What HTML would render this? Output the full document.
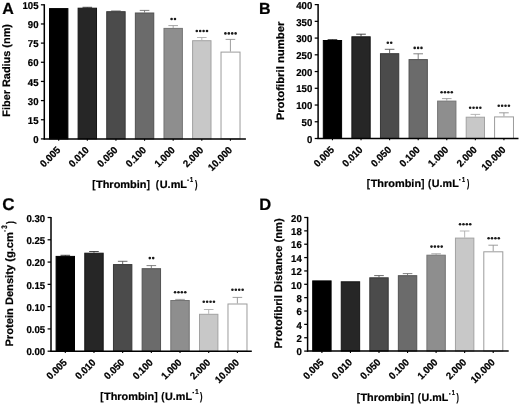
<!DOCTYPE html>
<html><head><meta charset="utf-8"><style>
html,body{margin:0;padding:0;background:#fff;}
svg{display:block;font-family:"Liberation Sans", sans-serif;text-rendering:geometricPrecision;}
text{stroke:#000;stroke-width:0.22px;}
svg{filter:grayscale(1) blur(0.35px);}
</style></head><body>
<svg width="520" height="405" viewBox="0 0 520 405">
<rect width="520" height="405" fill="#fff"/>
<text x="2.3" y="13.8" font-size="16" font-weight="bold">A</text>
<rect x="49.50" y="8.60" width="18.40" height="130.30" fill="#000000" stroke="#000000" stroke-width="1"/>
<line x1="58.70" y1="138.90" x2="58.70" y2="140.70" stroke="#000" stroke-width="1.1"/>
<text transform="translate(61.00,150.80) rotate(-45) scale(0.96,1)" font-size="10.0" font-weight="bold" text-anchor="end">0.005</text>
<line x1="87.32" y1="7.30" x2="87.32" y2="7.70" stroke="#2a2a2a" stroke-width="0.85"/>
<line x1="82.52" y1="7.30" x2="92.12" y2="7.30" stroke="#2a2a2a" stroke-width="0.85"/>
<rect x="78.12" y="8.20" width="18.40" height="130.70" fill="#262626" stroke="#151515" stroke-width="1"/>
<line x1="87.32" y1="138.90" x2="87.32" y2="140.70" stroke="#000" stroke-width="1.1"/>
<text transform="translate(89.62,150.80) rotate(-45) scale(0.96,1)" font-size="10.0" font-weight="bold" text-anchor="end">0.010</text>
<line x1="115.94" y1="11.00" x2="115.94" y2="11.20" stroke="#505050" stroke-width="0.85"/>
<line x1="111.14" y1="11.00" x2="120.74" y2="11.00" stroke="#505050" stroke-width="0.85"/>
<rect x="106.74" y="11.70" width="18.40" height="127.20" fill="#4b4b4b" stroke="#383838" stroke-width="1"/>
<line x1="115.94" y1="138.90" x2="115.94" y2="140.70" stroke="#000" stroke-width="1.1"/>
<text transform="translate(118.24,150.80) rotate(-45) scale(0.96,1)" font-size="10.0" font-weight="bold" text-anchor="end">0.050</text>
<line x1="144.56" y1="10.40" x2="144.56" y2="12.50" stroke="#6a6a6a" stroke-width="0.85"/>
<line x1="139.76" y1="10.40" x2="149.36" y2="10.40" stroke="#6a6a6a" stroke-width="0.85"/>
<rect x="135.36" y="13.00" width="18.40" height="125.90" fill="#6b6b6b" stroke="#525252" stroke-width="1"/>
<line x1="144.56" y1="138.90" x2="144.56" y2="140.70" stroke="#000" stroke-width="1.1"/>
<text transform="translate(146.86,150.80) rotate(-45) scale(0.96,1)" font-size="10.0" font-weight="bold" text-anchor="end">0.100</text>
<line x1="173.18" y1="25.60" x2="173.18" y2="27.90" stroke="#959595" stroke-width="0.85"/>
<line x1="168.38" y1="25.60" x2="177.98" y2="25.60" stroke="#959595" stroke-width="0.85"/>
<rect x="163.98" y="28.40" width="18.40" height="110.50" fill="#8e8e8e" stroke="#747474" stroke-width="1"/>
<circle cx="171.58" cy="19.00" r="1.3" fill="#1a1a1a"/>
<circle cx="174.98" cy="19.00" r="1.3" fill="#1a1a1a"/>
<line x1="173.18" y1="138.90" x2="173.18" y2="140.70" stroke="#000" stroke-width="1.1"/>
<text transform="translate(175.48,150.80) rotate(-45) scale(0.96,1)" font-size="10.0" font-weight="bold" text-anchor="end">1.000</text>
<line x1="201.80" y1="37.50" x2="201.80" y2="40.20" stroke="#aaaaaa" stroke-width="0.85"/>
<line x1="197.00" y1="37.50" x2="206.60" y2="37.50" stroke="#aaaaaa" stroke-width="0.85"/>
<rect x="192.60" y="40.70" width="18.40" height="98.20" fill="#c8c8c8" stroke="#a2a2a2" stroke-width="1"/>
<circle cx="196.80" cy="31.00" r="1.3" fill="#1a1a1a"/>
<circle cx="200.20" cy="31.00" r="1.3" fill="#1a1a1a"/>
<circle cx="203.60" cy="31.00" r="1.3" fill="#1a1a1a"/>
<circle cx="207.00" cy="31.00" r="1.3" fill="#1a1a1a"/>
<line x1="201.80" y1="138.90" x2="201.80" y2="140.70" stroke="#000" stroke-width="1.1"/>
<text transform="translate(204.10,150.80) rotate(-45) scale(0.96,1)" font-size="10.0" font-weight="bold" text-anchor="end">2.000</text>
<line x1="230.42" y1="39.40" x2="230.42" y2="51.60" stroke="#8c8c8c" stroke-width="0.85"/>
<line x1="225.62" y1="39.40" x2="235.22" y2="39.40" stroke="#8c8c8c" stroke-width="0.85"/>
<rect x="221.02" y="52.10" width="19.00" height="86.80" fill="#ffffff" stroke="#9c9c9c" stroke-width="1"/>
<circle cx="225.42" cy="33.40" r="1.3" fill="#1a1a1a"/>
<circle cx="228.82" cy="33.40" r="1.3" fill="#1a1a1a"/>
<circle cx="232.22" cy="33.40" r="1.3" fill="#1a1a1a"/>
<circle cx="235.62" cy="33.40" r="1.3" fill="#1a1a1a"/>
<line x1="230.42" y1="138.90" x2="230.42" y2="140.70" stroke="#000" stroke-width="1.1"/>
<text transform="translate(232.72,150.80) rotate(-45) scale(0.96,1)" font-size="10.0" font-weight="bold" text-anchor="end">10.000</text>
<line x1="44.30" y1="4.20" x2="44.30" y2="139.50" stroke="#000" stroke-width="1.5"/>
<line x1="43.70" y1="138.90" x2="245.90" y2="138.90" stroke="#000" stroke-width="1.5"/>
<line x1="40.90" y1="138.90" x2="44.30" y2="138.90" stroke="#000" stroke-width="1.25"/>
<text transform="translate(38.50,143.10) scale(0.96,1)" font-size="10.0" font-weight="bold" text-anchor="end">0</text>
<line x1="40.90" y1="119.74" x2="44.30" y2="119.74" stroke="#000" stroke-width="1.25"/>
<text transform="translate(38.50,123.94) scale(0.96,1)" font-size="10.0" font-weight="bold" text-anchor="end">15</text>
<line x1="40.90" y1="100.59" x2="44.30" y2="100.59" stroke="#000" stroke-width="1.25"/>
<text transform="translate(38.50,104.79) scale(0.96,1)" font-size="10.0" font-weight="bold" text-anchor="end">30</text>
<line x1="40.90" y1="81.43" x2="44.30" y2="81.43" stroke="#000" stroke-width="1.25"/>
<text transform="translate(38.50,85.63) scale(0.96,1)" font-size="10.0" font-weight="bold" text-anchor="end">45</text>
<line x1="40.90" y1="62.27" x2="44.30" y2="62.27" stroke="#000" stroke-width="1.25"/>
<text transform="translate(38.50,66.47) scale(0.96,1)" font-size="10.0" font-weight="bold" text-anchor="end">60</text>
<line x1="40.90" y1="43.11" x2="44.30" y2="43.11" stroke="#000" stroke-width="1.25"/>
<text transform="translate(38.50,47.31) scale(0.96,1)" font-size="10.0" font-weight="bold" text-anchor="end">75</text>
<line x1="40.90" y1="23.96" x2="44.30" y2="23.96" stroke="#000" stroke-width="1.25"/>
<text transform="translate(38.50,28.16) scale(0.96,1)" font-size="10.0" font-weight="bold" text-anchor="end">90</text>
<line x1="40.90" y1="4.80" x2="44.30" y2="4.80" stroke="#000" stroke-width="1.25"/>
<text transform="translate(38.50,9.00) scale(0.96,1)" font-size="10.0" font-weight="bold" text-anchor="end">105</text>
<text transform="translate(10.20,116.00) rotate(-90)" x="-0.73" font-size="10.8" font-weight="bold" textLength="92.67" lengthAdjust="spacingAndGlyphs">Fiber Radius (nm)</text>
<text x="92.15" y="187.50" font-size="11.0" font-weight="bold" textLength="3.27" lengthAdjust="spacingAndGlyphs">[</text>
<text x="95.98" y="187.50" font-size="10.6" font-weight="bold" textLength="50.59" lengthAdjust="spacingAndGlyphs">Thrombin</text>
<text x="146.79" y="187.50" font-size="11.0" font-weight="bold" textLength="3.14" lengthAdjust="spacingAndGlyphs">]</text>
<text x="155.72" y="187.50" font-size="11.0" font-weight="bold" textLength="3.19" lengthAdjust="spacingAndGlyphs">(</text>
<text x="159.74" y="187.50" font-size="10.6" font-weight="bold" textLength="27.29" lengthAdjust="spacingAndGlyphs">U.mL</text>
<text x="194.89" y="187.50" font-size="11.0" font-weight="bold" textLength="2.48" lengthAdjust="spacingAndGlyphs">)</text>
<rect x="187.30" y="179.55" width="1.50" height="1.3" fill="#000"/>
<text x="190.05" y="182.40" font-size="7.2" font-weight="bold" textLength="3.11" lengthAdjust="spacingAndGlyphs">1</text>
<text x="259.0" y="13.8" font-size="16" font-weight="bold">B</text>
<line x1="332.45" y1="39.60" x2="332.45" y2="40.00" stroke="#202020" stroke-width="0.85"/>
<line x1="327.65" y1="39.60" x2="337.25" y2="39.60" stroke="#202020" stroke-width="0.85"/>
<rect x="323.30" y="40.50" width="18.30" height="98.00" fill="#000000" stroke="#000000" stroke-width="1"/>
<line x1="332.45" y1="138.50" x2="332.45" y2="140.30" stroke="#000" stroke-width="1.1"/>
<text transform="translate(334.75,150.40) rotate(-45) scale(0.96,1)" font-size="10.0" font-weight="bold" text-anchor="end">0.005</text>
<line x1="361.03" y1="34.20" x2="361.03" y2="36.30" stroke="#2a2a2a" stroke-width="0.85"/>
<line x1="356.23" y1="34.20" x2="365.83" y2="34.20" stroke="#2a2a2a" stroke-width="0.85"/>
<rect x="351.88" y="36.80" width="18.30" height="101.70" fill="#262626" stroke="#151515" stroke-width="1"/>
<line x1="361.03" y1="138.50" x2="361.03" y2="140.30" stroke="#000" stroke-width="1.1"/>
<text transform="translate(363.33,150.40) rotate(-45) scale(0.96,1)" font-size="10.0" font-weight="bold" text-anchor="end">0.010</text>
<line x1="389.61" y1="49.30" x2="389.61" y2="53.20" stroke="#505050" stroke-width="0.85"/>
<line x1="384.81" y1="49.30" x2="394.41" y2="49.30" stroke="#505050" stroke-width="0.85"/>
<rect x="380.46" y="53.70" width="18.30" height="84.80" fill="#4b4b4b" stroke="#383838" stroke-width="1"/>
<circle cx="387.81" cy="42.70" r="1.3" fill="#1a1a1a"/>
<circle cx="391.21" cy="42.70" r="1.3" fill="#1a1a1a"/>
<line x1="389.61" y1="138.50" x2="389.61" y2="140.30" stroke="#000" stroke-width="1.1"/>
<text transform="translate(391.91,150.40) rotate(-45) scale(0.96,1)" font-size="10.0" font-weight="bold" text-anchor="end">0.050</text>
<line x1="418.19" y1="53.80" x2="418.19" y2="59.10" stroke="#6a6a6a" stroke-width="0.85"/>
<line x1="413.39" y1="53.80" x2="422.99" y2="53.80" stroke="#6a6a6a" stroke-width="0.85"/>
<rect x="409.04" y="59.60" width="18.30" height="78.90" fill="#6b6b6b" stroke="#525252" stroke-width="1"/>
<circle cx="414.69" cy="47.90" r="1.3" fill="#1a1a1a"/>
<circle cx="418.09" cy="47.90" r="1.3" fill="#1a1a1a"/>
<circle cx="421.49" cy="47.90" r="1.3" fill="#1a1a1a"/>
<line x1="418.19" y1="138.50" x2="418.19" y2="140.30" stroke="#000" stroke-width="1.1"/>
<text transform="translate(420.49,150.40) rotate(-45) scale(0.96,1)" font-size="10.0" font-weight="bold" text-anchor="end">0.100</text>
<line x1="446.77" y1="98.60" x2="446.77" y2="100.60" stroke="#959595" stroke-width="0.85"/>
<line x1="441.97" y1="98.60" x2="451.57" y2="98.60" stroke="#959595" stroke-width="0.85"/>
<rect x="437.62" y="101.10" width="18.30" height="37.40" fill="#8e8e8e" stroke="#747474" stroke-width="1"/>
<circle cx="441.57" cy="92.20" r="1.3" fill="#1a1a1a"/>
<circle cx="444.97" cy="92.20" r="1.3" fill="#1a1a1a"/>
<circle cx="448.37" cy="92.20" r="1.3" fill="#1a1a1a"/>
<circle cx="451.77" cy="92.20" r="1.3" fill="#1a1a1a"/>
<line x1="446.77" y1="138.50" x2="446.77" y2="140.30" stroke="#000" stroke-width="1.1"/>
<text transform="translate(449.07,150.40) rotate(-45) scale(0.96,1)" font-size="10.0" font-weight="bold" text-anchor="end">1.000</text>
<line x1="475.35" y1="114.40" x2="475.35" y2="116.70" stroke="#aaaaaa" stroke-width="0.85"/>
<line x1="470.55" y1="114.40" x2="480.15" y2="114.40" stroke="#aaaaaa" stroke-width="0.85"/>
<rect x="466.20" y="117.20" width="18.30" height="21.30" fill="#c8c8c8" stroke="#a2a2a2" stroke-width="1"/>
<circle cx="470.15" cy="107.80" r="1.3" fill="#1a1a1a"/>
<circle cx="473.55" cy="107.80" r="1.3" fill="#1a1a1a"/>
<circle cx="476.95" cy="107.80" r="1.3" fill="#1a1a1a"/>
<circle cx="480.35" cy="107.80" r="1.3" fill="#1a1a1a"/>
<line x1="475.35" y1="138.50" x2="475.35" y2="140.30" stroke="#000" stroke-width="1.1"/>
<text transform="translate(477.65,150.40) rotate(-45) scale(0.96,1)" font-size="10.0" font-weight="bold" text-anchor="end">2.000</text>
<line x1="503.93" y1="112.80" x2="503.93" y2="116.40" stroke="#8c8c8c" stroke-width="0.85"/>
<line x1="499.13" y1="112.80" x2="508.73" y2="112.80" stroke="#8c8c8c" stroke-width="0.85"/>
<rect x="494.58" y="116.90" width="18.90" height="21.60" fill="#ffffff" stroke="#9c9c9c" stroke-width="1"/>
<circle cx="498.73" cy="105.80" r="1.3" fill="#1a1a1a"/>
<circle cx="502.13" cy="105.80" r="1.3" fill="#1a1a1a"/>
<circle cx="505.53" cy="105.80" r="1.3" fill="#1a1a1a"/>
<circle cx="508.93" cy="105.80" r="1.3" fill="#1a1a1a"/>
<line x1="503.93" y1="138.50" x2="503.93" y2="140.30" stroke="#000" stroke-width="1.1"/>
<text transform="translate(506.23,150.40) rotate(-45) scale(0.96,1)" font-size="10.0" font-weight="bold" text-anchor="end">10.000</text>
<line x1="318.10" y1="4.00" x2="318.10" y2="139.10" stroke="#000" stroke-width="1.5"/>
<line x1="317.50" y1="138.50" x2="518.50" y2="138.50" stroke="#000" stroke-width="1.5"/>
<line x1="314.70" y1="138.50" x2="318.10" y2="138.50" stroke="#000" stroke-width="1.25"/>
<text transform="translate(312.30,142.70) scale(0.96,1)" font-size="10.0" font-weight="bold" text-anchor="end">0</text>
<line x1="314.70" y1="121.76" x2="318.10" y2="121.76" stroke="#000" stroke-width="1.25"/>
<text transform="translate(312.30,125.96) scale(0.96,1)" font-size="10.0" font-weight="bold" text-anchor="end">50</text>
<line x1="314.70" y1="105.03" x2="318.10" y2="105.03" stroke="#000" stroke-width="1.25"/>
<text transform="translate(312.30,109.23) scale(0.96,1)" font-size="10.0" font-weight="bold" text-anchor="end">100</text>
<line x1="314.70" y1="88.29" x2="318.10" y2="88.29" stroke="#000" stroke-width="1.25"/>
<text transform="translate(312.30,92.49) scale(0.96,1)" font-size="10.0" font-weight="bold" text-anchor="end">150</text>
<line x1="314.70" y1="71.55" x2="318.10" y2="71.55" stroke="#000" stroke-width="1.25"/>
<text transform="translate(312.30,75.75) scale(0.96,1)" font-size="10.0" font-weight="bold" text-anchor="end">200</text>
<line x1="314.70" y1="54.81" x2="318.10" y2="54.81" stroke="#000" stroke-width="1.25"/>
<text transform="translate(312.30,59.01) scale(0.96,1)" font-size="10.0" font-weight="bold" text-anchor="end">250</text>
<line x1="314.70" y1="38.08" x2="318.10" y2="38.08" stroke="#000" stroke-width="1.25"/>
<text transform="translate(312.30,42.28) scale(0.96,1)" font-size="10.0" font-weight="bold" text-anchor="end">300</text>
<line x1="314.70" y1="21.34" x2="318.10" y2="21.34" stroke="#000" stroke-width="1.25"/>
<text transform="translate(312.30,25.54) scale(0.96,1)" font-size="10.0" font-weight="bold" text-anchor="end">350</text>
<line x1="314.70" y1="4.60" x2="318.10" y2="4.60" stroke="#000" stroke-width="1.25"/>
<text transform="translate(312.30,8.80) scale(0.96,1)" font-size="10.0" font-weight="bold" text-anchor="end">400</text>
<text transform="translate(283.80,119.60) rotate(-90)" x="-0.76" font-size="10.8" font-weight="bold" textLength="98.83" lengthAdjust="spacingAndGlyphs">Protofibril number</text>
<text x="366.85" y="187.40" font-size="11.0" font-weight="bold" textLength="3.27" lengthAdjust="spacingAndGlyphs">[</text>
<text x="370.68" y="187.40" font-size="10.6" font-weight="bold" textLength="50.39" lengthAdjust="spacingAndGlyphs">Thrombin</text>
<text x="421.29" y="187.40" font-size="11.0" font-weight="bold" textLength="3.14" lengthAdjust="spacingAndGlyphs">]</text>
<text x="428.12" y="187.40" font-size="11.0" font-weight="bold" textLength="3.19" lengthAdjust="spacingAndGlyphs">(</text>
<text x="431.85" y="187.40" font-size="10.6" font-weight="bold" textLength="26.88" lengthAdjust="spacingAndGlyphs">U.mL</text>
<text x="466.89" y="187.40" font-size="11.0" font-weight="bold" textLength="2.36" lengthAdjust="spacingAndGlyphs">)</text>
<rect x="459.00" y="179.05" width="1.50" height="1.3" fill="#000"/>
<text x="462.05" y="181.60" font-size="7.2" font-weight="bold" textLength="3.11" lengthAdjust="spacingAndGlyphs">1</text>
<text x="2.2" y="210.2" font-size="17" font-weight="bold">C</text>
<line x1="65.30" y1="255.30" x2="65.30" y2="255.90" stroke="#202020" stroke-width="0.85"/>
<line x1="60.50" y1="255.30" x2="70.10" y2="255.30" stroke="#202020" stroke-width="0.85"/>
<rect x="56.10" y="256.40" width="18.40" height="94.80" fill="#000000" stroke="#000000" stroke-width="1"/>
<line x1="65.30" y1="351.20" x2="65.30" y2="353.00" stroke="#000" stroke-width="1.1"/>
<text transform="translate(67.60,363.10) rotate(-45) scale(0.96,1)" font-size="10.0" font-weight="bold" text-anchor="end">0.005</text>
<line x1="93.98" y1="251.50" x2="93.98" y2="252.70" stroke="#2a2a2a" stroke-width="0.85"/>
<line x1="89.18" y1="251.50" x2="98.78" y2="251.50" stroke="#2a2a2a" stroke-width="0.85"/>
<rect x="84.78" y="253.20" width="18.40" height="98.00" fill="#262626" stroke="#151515" stroke-width="1"/>
<line x1="93.98" y1="351.20" x2="93.98" y2="353.00" stroke="#000" stroke-width="1.1"/>
<text transform="translate(96.28,363.10) rotate(-45) scale(0.96,1)" font-size="10.0" font-weight="bold" text-anchor="end">0.010</text>
<line x1="122.66" y1="261.30" x2="122.66" y2="264.10" stroke="#505050" stroke-width="0.85"/>
<line x1="117.86" y1="261.30" x2="127.46" y2="261.30" stroke="#505050" stroke-width="0.85"/>
<rect x="113.46" y="264.60" width="18.40" height="86.60" fill="#4b4b4b" stroke="#383838" stroke-width="1"/>
<line x1="122.66" y1="351.20" x2="122.66" y2="353.00" stroke="#000" stroke-width="1.1"/>
<text transform="translate(124.96,363.10) rotate(-45) scale(0.96,1)" font-size="10.0" font-weight="bold" text-anchor="end">0.050</text>
<line x1="151.34" y1="265.60" x2="151.34" y2="268.20" stroke="#6a6a6a" stroke-width="0.85"/>
<line x1="146.54" y1="265.60" x2="156.14" y2="265.60" stroke="#6a6a6a" stroke-width="0.85"/>
<rect x="142.14" y="268.70" width="18.40" height="82.50" fill="#6b6b6b" stroke="#525252" stroke-width="1"/>
<circle cx="149.79" cy="258.10" r="1.3" fill="#1a1a1a"/>
<circle cx="153.19" cy="258.10" r="1.3" fill="#1a1a1a"/>
<line x1="151.34" y1="351.20" x2="151.34" y2="353.00" stroke="#000" stroke-width="1.1"/>
<text transform="translate(153.64,363.10) rotate(-45) scale(0.96,1)" font-size="10.0" font-weight="bold" text-anchor="end">0.100</text>
<line x1="180.02" y1="299.40" x2="180.02" y2="300.00" stroke="#959595" stroke-width="0.85"/>
<line x1="175.22" y1="299.40" x2="184.82" y2="299.40" stroke="#959595" stroke-width="0.85"/>
<rect x="170.82" y="300.50" width="18.40" height="50.70" fill="#8e8e8e" stroke="#747474" stroke-width="1"/>
<circle cx="175.07" cy="292.20" r="1.3" fill="#1a1a1a"/>
<circle cx="178.47" cy="292.20" r="1.3" fill="#1a1a1a"/>
<circle cx="181.87" cy="292.20" r="1.3" fill="#1a1a1a"/>
<circle cx="185.27" cy="292.20" r="1.3" fill="#1a1a1a"/>
<line x1="180.02" y1="351.20" x2="180.02" y2="353.00" stroke="#000" stroke-width="1.1"/>
<text transform="translate(182.32,363.10) rotate(-45) scale(0.96,1)" font-size="10.0" font-weight="bold" text-anchor="end">1.000</text>
<line x1="208.70" y1="309.50" x2="208.70" y2="313.80" stroke="#aaaaaa" stroke-width="0.85"/>
<line x1="203.90" y1="309.50" x2="213.50" y2="309.50" stroke="#aaaaaa" stroke-width="0.85"/>
<rect x="199.50" y="314.30" width="18.40" height="36.90" fill="#c8c8c8" stroke="#a2a2a2" stroke-width="1"/>
<circle cx="203.75" cy="301.70" r="1.3" fill="#1a1a1a"/>
<circle cx="207.15" cy="301.70" r="1.3" fill="#1a1a1a"/>
<circle cx="210.55" cy="301.70" r="1.3" fill="#1a1a1a"/>
<circle cx="213.95" cy="301.70" r="1.3" fill="#1a1a1a"/>
<line x1="208.70" y1="351.20" x2="208.70" y2="353.00" stroke="#000" stroke-width="1.1"/>
<text transform="translate(211.00,363.10) rotate(-45) scale(0.96,1)" font-size="10.0" font-weight="bold" text-anchor="end">2.000</text>
<line x1="237.38" y1="297.40" x2="237.38" y2="303.50" stroke="#8c8c8c" stroke-width="0.85"/>
<line x1="232.58" y1="297.40" x2="242.18" y2="297.40" stroke="#8c8c8c" stroke-width="0.85"/>
<rect x="227.98" y="304.00" width="19.00" height="47.20" fill="#ffffff" stroke="#9c9c9c" stroke-width="1"/>
<circle cx="232.43" cy="289.70" r="1.3" fill="#1a1a1a"/>
<circle cx="235.83" cy="289.70" r="1.3" fill="#1a1a1a"/>
<circle cx="239.23" cy="289.70" r="1.3" fill="#1a1a1a"/>
<circle cx="242.63" cy="289.70" r="1.3" fill="#1a1a1a"/>
<line x1="237.38" y1="351.20" x2="237.38" y2="353.00" stroke="#000" stroke-width="1.1"/>
<text transform="translate(239.68,363.10) rotate(-45) scale(0.96,1)" font-size="10.0" font-weight="bold" text-anchor="end">10.000</text>
<line x1="51.00" y1="216.90" x2="51.00" y2="351.80" stroke="#000" stroke-width="1.5"/>
<line x1="50.40" y1="351.20" x2="251.80" y2="351.20" stroke="#000" stroke-width="1.5"/>
<line x1="47.60" y1="351.20" x2="51.00" y2="351.20" stroke="#000" stroke-width="1.25"/>
<text transform="translate(45.20,355.40) scale(0.96,1)" font-size="10.0" font-weight="bold" text-anchor="end">0.00</text>
<line x1="47.60" y1="328.92" x2="51.00" y2="328.92" stroke="#000" stroke-width="1.25"/>
<text transform="translate(45.20,333.12) scale(0.96,1)" font-size="10.0" font-weight="bold" text-anchor="end">0.05</text>
<line x1="47.60" y1="306.63" x2="51.00" y2="306.63" stroke="#000" stroke-width="1.25"/>
<text transform="translate(45.20,310.83) scale(0.96,1)" font-size="10.0" font-weight="bold" text-anchor="end">0.10</text>
<line x1="47.60" y1="284.35" x2="51.00" y2="284.35" stroke="#000" stroke-width="1.25"/>
<text transform="translate(45.20,288.55) scale(0.96,1)" font-size="10.0" font-weight="bold" text-anchor="end">0.15</text>
<line x1="47.60" y1="262.07" x2="51.00" y2="262.07" stroke="#000" stroke-width="1.25"/>
<text transform="translate(45.20,266.27) scale(0.96,1)" font-size="10.0" font-weight="bold" text-anchor="end">0.20</text>
<line x1="47.60" y1="239.78" x2="51.00" y2="239.78" stroke="#000" stroke-width="1.25"/>
<text transform="translate(45.20,243.98) scale(0.96,1)" font-size="10.0" font-weight="bold" text-anchor="end">0.25</text>
<line x1="47.60" y1="217.50" x2="51.00" y2="217.50" stroke="#000" stroke-width="1.25"/>
<text transform="translate(45.20,221.70) scale(0.96,1)" font-size="10.0" font-weight="bold" text-anchor="end">0.30</text>
<text transform="translate(13.20,345.80) rotate(-90)" x="-0.75" font-size="10.8" font-weight="bold" textLength="114.43" lengthAdjust="spacingAndGlyphs">Protein Density (g.cm</text>
<text transform="translate(7.20,228.60) rotate(-90)" x="-0.14" font-size="8.0" font-weight="bold" textLength="3.47" lengthAdjust="spacingAndGlyphs">3</text>
<text transform="translate(13.50,224.10) rotate(-90)" x="-0.01" font-size="11.0" font-weight="bold" textLength="2.95" lengthAdjust="spacingAndGlyphs">)</text>
<rect x="4.40" y="230.20" width="1.1" height="1.50" fill="#000"/>
<text x="100.15" y="400.00" font-size="11.0" font-weight="bold" textLength="3.27" lengthAdjust="spacingAndGlyphs">[</text>
<text x="103.98" y="400.00" font-size="10.6" font-weight="bold" textLength="50.29" lengthAdjust="spacingAndGlyphs">Thrombin</text>
<text x="154.49" y="400.00" font-size="11.0" font-weight="bold" textLength="3.14" lengthAdjust="spacingAndGlyphs">]</text>
<text x="161.32" y="400.00" font-size="11.0" font-weight="bold" textLength="3.19" lengthAdjust="spacingAndGlyphs">(</text>
<text x="165.05" y="400.00" font-size="10.6" font-weight="bold" textLength="26.98" lengthAdjust="spacingAndGlyphs">U.mL</text>
<text x="200.09" y="400.00" font-size="11.0" font-weight="bold" textLength="2.48" lengthAdjust="spacingAndGlyphs">)</text>
<rect x="192.50" y="391.95" width="1.50" height="1.3" fill="#000"/>
<text x="195.32" y="394.30" font-size="7.2" font-weight="bold" textLength="3.35" lengthAdjust="spacingAndGlyphs">1</text>
<text x="259.3" y="210.0" font-size="16.5" font-weight="bold">D</text>
<rect x="312.70" y="280.90" width="18.40" height="70.20" fill="#000000" stroke="#000000" stroke-width="1"/>
<line x1="321.90" y1="351.10" x2="321.90" y2="352.90" stroke="#000" stroke-width="1.1"/>
<text transform="translate(324.20,363.00) rotate(-45) scale(0.96,1)" font-size="10.0" font-weight="bold" text-anchor="end">0.005</text>
<rect x="341.25" y="281.80" width="18.40" height="69.30" fill="#262626" stroke="#151515" stroke-width="1"/>
<line x1="350.45" y1="351.10" x2="350.45" y2="352.90" stroke="#000" stroke-width="1.1"/>
<text transform="translate(352.75,363.00) rotate(-45) scale(0.96,1)" font-size="10.0" font-weight="bold" text-anchor="end">0.010</text>
<line x1="379.00" y1="275.60" x2="379.00" y2="277.30" stroke="#505050" stroke-width="0.85"/>
<line x1="374.20" y1="275.60" x2="383.80" y2="275.60" stroke="#505050" stroke-width="0.85"/>
<rect x="369.80" y="277.80" width="18.40" height="73.30" fill="#4b4b4b" stroke="#383838" stroke-width="1"/>
<line x1="379.00" y1="351.10" x2="379.00" y2="352.90" stroke="#000" stroke-width="1.1"/>
<text transform="translate(381.30,363.00) rotate(-45) scale(0.96,1)" font-size="10.0" font-weight="bold" text-anchor="end">0.050</text>
<line x1="407.55" y1="273.60" x2="407.55" y2="275.20" stroke="#6a6a6a" stroke-width="0.85"/>
<line x1="402.75" y1="273.60" x2="412.35" y2="273.60" stroke="#6a6a6a" stroke-width="0.85"/>
<rect x="398.35" y="275.70" width="18.40" height="75.40" fill="#6b6b6b" stroke="#525252" stroke-width="1"/>
<line x1="407.55" y1="351.10" x2="407.55" y2="352.90" stroke="#000" stroke-width="1.1"/>
<text transform="translate(409.85,363.00) rotate(-45) scale(0.96,1)" font-size="10.0" font-weight="bold" text-anchor="end">0.100</text>
<line x1="436.10" y1="253.80" x2="436.10" y2="254.70" stroke="#959595" stroke-width="0.85"/>
<line x1="431.30" y1="253.80" x2="440.90" y2="253.80" stroke="#959595" stroke-width="0.85"/>
<rect x="426.90" y="255.20" width="18.40" height="95.90" fill="#8e8e8e" stroke="#747474" stroke-width="1"/>
<circle cx="431.50" cy="246.60" r="1.3" fill="#1a1a1a"/>
<circle cx="434.90" cy="246.60" r="1.3" fill="#1a1a1a"/>
<circle cx="438.30" cy="246.60" r="1.3" fill="#1a1a1a"/>
<circle cx="441.70" cy="246.60" r="1.3" fill="#1a1a1a"/>
<line x1="436.10" y1="351.10" x2="436.10" y2="352.90" stroke="#000" stroke-width="1.1"/>
<text transform="translate(438.40,363.00) rotate(-45) scale(0.96,1)" font-size="10.0" font-weight="bold" text-anchor="end">1.000</text>
<line x1="464.65" y1="231.00" x2="464.65" y2="237.60" stroke="#aaaaaa" stroke-width="0.85"/>
<line x1="459.85" y1="231.00" x2="469.45" y2="231.00" stroke="#aaaaaa" stroke-width="0.85"/>
<rect x="455.45" y="238.10" width="18.40" height="113.00" fill="#c8c8c8" stroke="#a2a2a2" stroke-width="1"/>
<circle cx="460.05" cy="224.30" r="1.3" fill="#1a1a1a"/>
<circle cx="463.45" cy="224.30" r="1.3" fill="#1a1a1a"/>
<circle cx="466.85" cy="224.30" r="1.3" fill="#1a1a1a"/>
<circle cx="470.25" cy="224.30" r="1.3" fill="#1a1a1a"/>
<line x1="464.65" y1="351.10" x2="464.65" y2="352.90" stroke="#000" stroke-width="1.1"/>
<text transform="translate(466.95,363.00) rotate(-45) scale(0.96,1)" font-size="10.0" font-weight="bold" text-anchor="end">2.000</text>
<line x1="493.20" y1="245.20" x2="493.20" y2="251.30" stroke="#8c8c8c" stroke-width="0.85"/>
<line x1="488.40" y1="245.20" x2="498.00" y2="245.20" stroke="#8c8c8c" stroke-width="0.85"/>
<rect x="483.80" y="251.80" width="19.00" height="99.30" fill="#ffffff" stroke="#9c9c9c" stroke-width="1"/>
<circle cx="488.60" cy="238.20" r="1.3" fill="#1a1a1a"/>
<circle cx="492.00" cy="238.20" r="1.3" fill="#1a1a1a"/>
<circle cx="495.40" cy="238.20" r="1.3" fill="#1a1a1a"/>
<circle cx="498.80" cy="238.20" r="1.3" fill="#1a1a1a"/>
<line x1="493.20" y1="351.10" x2="493.20" y2="352.90" stroke="#000" stroke-width="1.1"/>
<text transform="translate(495.50,363.00) rotate(-45) scale(0.96,1)" font-size="10.0" font-weight="bold" text-anchor="end">10.000</text>
<line x1="307.60" y1="216.90" x2="307.60" y2="351.70" stroke="#000" stroke-width="1.5"/>
<line x1="307.00" y1="351.10" x2="508.70" y2="351.10" stroke="#000" stroke-width="1.5"/>
<line x1="304.20" y1="351.10" x2="307.60" y2="351.10" stroke="#000" stroke-width="1.25"/>
<text transform="translate(301.80,355.30) scale(0.96,1)" font-size="10.0" font-weight="bold" text-anchor="end">0</text>
<line x1="304.20" y1="337.74" x2="307.60" y2="337.74" stroke="#000" stroke-width="1.25"/>
<text transform="translate(301.80,341.94) scale(0.96,1)" font-size="10.0" font-weight="bold" text-anchor="end">2</text>
<line x1="304.20" y1="324.38" x2="307.60" y2="324.38" stroke="#000" stroke-width="1.25"/>
<text transform="translate(301.80,328.58) scale(0.96,1)" font-size="10.0" font-weight="bold" text-anchor="end">4</text>
<line x1="304.20" y1="311.02" x2="307.60" y2="311.02" stroke="#000" stroke-width="1.25"/>
<text transform="translate(301.80,315.22) scale(0.96,1)" font-size="10.0" font-weight="bold" text-anchor="end">6</text>
<line x1="304.20" y1="297.66" x2="307.60" y2="297.66" stroke="#000" stroke-width="1.25"/>
<text transform="translate(301.80,301.86) scale(0.96,1)" font-size="10.0" font-weight="bold" text-anchor="end">8</text>
<line x1="304.20" y1="284.30" x2="307.60" y2="284.30" stroke="#000" stroke-width="1.25"/>
<text transform="translate(301.80,288.50) scale(0.96,1)" font-size="10.0" font-weight="bold" text-anchor="end">10</text>
<line x1="304.20" y1="270.94" x2="307.60" y2="270.94" stroke="#000" stroke-width="1.25"/>
<text transform="translate(301.80,275.14) scale(0.96,1)" font-size="10.0" font-weight="bold" text-anchor="end">12</text>
<line x1="304.20" y1="257.58" x2="307.60" y2="257.58" stroke="#000" stroke-width="1.25"/>
<text transform="translate(301.80,261.78) scale(0.96,1)" font-size="10.0" font-weight="bold" text-anchor="end">14</text>
<line x1="304.20" y1="244.22" x2="307.60" y2="244.22" stroke="#000" stroke-width="1.25"/>
<text transform="translate(301.80,248.42) scale(0.96,1)" font-size="10.0" font-weight="bold" text-anchor="end">16</text>
<line x1="304.20" y1="230.86" x2="307.60" y2="230.86" stroke="#000" stroke-width="1.25"/>
<text transform="translate(301.80,235.06) scale(0.96,1)" font-size="10.0" font-weight="bold" text-anchor="end">18</text>
<line x1="304.20" y1="217.50" x2="307.60" y2="217.50" stroke="#000" stroke-width="1.25"/>
<text transform="translate(301.80,221.70) scale(0.96,1)" font-size="10.0" font-weight="bold" text-anchor="end">20</text>
<text transform="translate(281.60,347.80) rotate(-90)" x="-0.75" font-size="10.8" font-weight="bold" textLength="130.20" lengthAdjust="spacingAndGlyphs">Protofibril Distance (nm)</text>
<text x="356.65" y="401.20" font-size="11.0" font-weight="bold" textLength="3.27" lengthAdjust="spacingAndGlyphs">[</text>
<text x="360.48" y="401.20" font-size="10.6" font-weight="bold" textLength="50.09" lengthAdjust="spacingAndGlyphs">Thrombin</text>
<text x="410.79" y="401.20" font-size="11.0" font-weight="bold" textLength="3.14" lengthAdjust="spacingAndGlyphs">]</text>
<text x="417.82" y="401.20" font-size="11.0" font-weight="bold" textLength="3.19" lengthAdjust="spacingAndGlyphs">(</text>
<text x="421.56" y="401.20" font-size="10.6" font-weight="bold" textLength="26.67" lengthAdjust="spacingAndGlyphs">U.mL</text>
<text x="456.39" y="401.20" font-size="11.0" font-weight="bold" textLength="2.36" lengthAdjust="spacingAndGlyphs">)</text>
<rect x="449.00" y="393.25" width="1.50" height="1.3" fill="#000"/>
<text x="451.85" y="395.30" font-size="7.2" font-weight="bold" textLength="3.11" lengthAdjust="spacingAndGlyphs">1</text>
</svg>
</body></html>
